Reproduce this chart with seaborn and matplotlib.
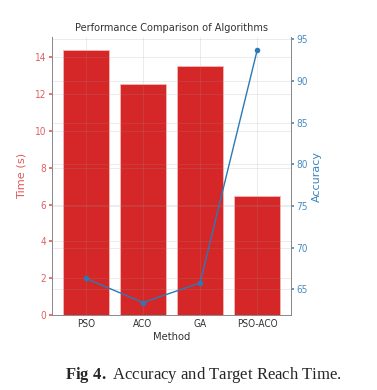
import matplotlib
matplotlib.use("Agg")
import matplotlib.pyplot as plt
import seaborn as sns
import pandas as pd

methods = ["PSO", "ACO", "GA", "PSO-ACO"]
time_s = [14.38, 12.57, 13.53, 6.45]
accuracy = [66.3, 63.4, 65.75, 93.76]

sns.set_theme(style="whitegrid")
plt.rcParams['font.family'] = ['DejaVu Sans']
plt.rcParams['font.stretch'] = 'condensed'
plt.rcParams['mathtext.fontset'] = 'custom'
plt.rcParams['mathtext.rm'] = 'Liberation Serif'
plt.rcParams['mathtext.bf'] = 'Liberation Serif:bold'

df = pd.DataFrame({"Method": methods, "Time": time_s, "Accuracy": accuracy})

fig = plt.figure(figsize=(3.77, 3.90), dpi=100)
ax = fig.add_axes([52/377, 1-315/390, (291-52)/377, (315-37)/390])

red = "#d62728"
blue = "#2a7ab8"
grid_kw = dict(color="#999999", linewidth=0.6, alpha=0.22)

sns.barplot(data=df, x="Method", y="Time", color=red, saturation=1, ax=ax,
            width=0.8, edgecolor="#f4b8b8", linewidth=0.6)
ax.set_ylim(0, 15.1)
ax.set_xlim(-0.59, 3.59)
ax.set_ylabel("Time (s)", color="#e05a5a", fontsize=8.2, labelpad=6,
              fontstretch="normal")
ax.set_xlabel("Method", fontsize=8, color="#333333", labelpad=2)
ax.tick_params(axis="y", colors="#e06060", labelsize=7.2, length=2, pad=2)
ax.tick_params(axis="x", labelsize=7.2, length=0, pad=3, colors="#333333")
ax.set_title("Performance Comparison of Algorithms", fontsize=7.8,
             color="#333333", pad=4)
ax.set_axisbelow(False)
ax.grid(True, **grid_kw)
ax.spines["top"].set_visible(False)
for s in ["left", "bottom", "right"]:
    ax.spines[s].set_color("#888888")
    ax.spines[s].set_linewidth(0.7)

ax2 = ax.twinx()
sns.lineplot(data=df, x="Method", y="Accuracy", color=blue, marker="o",
             markersize=4, linewidth=1, markeredgewidth=0, ax=ax2, sort=False)
ax2.set_ylim(61.9, 95.3)
ax2.set_ylabel("Accuracy", color="#3a85c0", fontsize=8, labelpad=3,
               fontstretch="normal")
ax2.tick_params(axis="y", colors="#4a8cc0", labelsize=7.2, length=2, pad=2)
ax2.grid(True, axis="y", **grid_kw)
ax2.grid(False, axis="x")
ax2.spines["top"].set_visible(False)
ax2.spines["left"].set_visible(False)
ax2.spines["bottom"].set_visible(False)
ax2.spines["right"].set_color("#888888")
ax2.spines["right"].set_linewidth(0.7)
ax.set_zorder(ax2.get_zorder() - 1)
ax2.patch.set_visible(False)

fig.text(203/377, 1-375/390, r"$\mathbf{Fig\ 4.}$ Accuracy and Target Reach Time.",
         ha="center", va="center", fontsize=12, family="Liberation Serif",
         fontstretch="normal")

fig.savefig("out.png", dpi=100)
